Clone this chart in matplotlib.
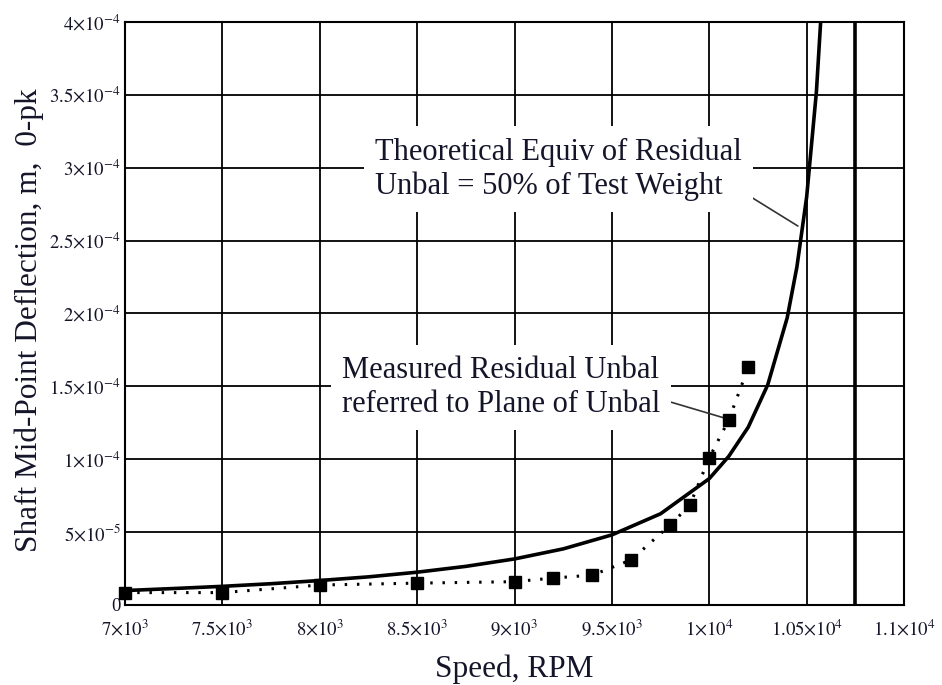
import matplotlib.pyplot as plt

# theoretical response curve
theo_rpm = [7000, 7250, 7500, 7750, 8000, 8250, 8500, 8750, 9000, 9250, 9500,
            9750, 10000, 10100, 10200, 10300, 10400, 10450, 10500, 10550, 10590]
theo_defl = [0.99e-5, 1.13e-5, 1.28e-5, 1.46e-5, 1.68e-5, 1.93e-5, 2.25e-5,
             2.65e-5, 3.16e-5, 3.85e-5, 4.81e-5, 6.26e-5, 8.67e-5, 10.2e-5,
             12.2e-5, 15.1e-5, 19.7e-5, 23.2e-5, 28.0e-5, 35.2e-5, 44.0e-5]

# measured points
meas_rpm = [7000, 7500, 8000, 8500, 9000, 9200, 9400, 9600, 9800, 9900, 10000, 10100, 10200]
meas_defl = [0.85e-5, 0.85e-5, 1.37e-5, 1.5e-5, 1.6e-5, 1.85e-5, 2.05e-5, 3.1e-5,
             5.5e-5, 6.85e-5, 10.1e-5, 12.7e-5, 16.3e-5]

marker_rpm = 10750  # thick vertical line

xticks = [7000, 7500, 8000, 8500, 9000, 9500, 10000, 10500, 11000]
xlabels = [r'$7{\times}10^{3}$', r'$7.5{\times}10^{3}$', r'$8{\times}10^{3}$',
           r'$8.5{\times}10^{3}$', r'$9{\times}10^{3}$', r'$9.5{\times}10^{3}$',
           r'$1{\times}10^{4}$', r'$1.05{\times}10^{4}$', r'$1.1{\times}10^{4}$']
yticks = [0, 5e-5, 1e-4, 1.5e-4, 2e-4, 2.5e-4, 3e-4, 3.5e-4, 4e-4]
ylabels = ['0', r'$5{\times}10^{-5}$', r'$1{\times}10^{-4}$', r'$1.5{\times}10^{-4}$',
           r'$2{\times}10^{-4}$', r'$2.5{\times}10^{-4}$', r'$3{\times}10^{-4}$',
           r'$3.5{\times}10^{-4}$', r'$4{\times}10^{-4}$']

plt.rcParams['font.family'] = 'Liberation Serif'
plt.rcParams['mathtext.fontset'] = 'stix'
txt = '#15152a'

fig = plt.figure(figsize=(9.42, 6.85), dpi=100)
ax = fig.add_axes([0.1327, 0.1168, 0.827, 0.8511])

ax.plot(theo_rpm, theo_defl, color='black', lw=2.6, zorder=3)
ax.plot(meas_rpm, meas_defl, color='black', lw=2.2, dashes=(0.8, 3.2), zorder=3)
ax.plot(meas_rpm, meas_defl, 's', color='black', ms=8, zorder=4, clip_on=False)
ax.axvline(marker_rpm, color='black', lw=2.6, zorder=2)

ax.set_xlim(7000, 11000)
ax.set_ylim(0, 4e-4)
ax.set_xticks(xticks)
ax.set_xticklabels(xlabels, fontsize=13.5, color=txt)
ax.set_yticks(yticks)
ax.set_yticklabels(ylabels, fontsize=13.5, color=txt)
ax.tick_params(axis='x', length=0, pad=10)
ax.tick_params(axis='y', length=0, pad=3)
ax.grid(True, color='black', lw=1.3)
for s in ax.spines.values():
    s.set_linewidth(1.5)

ax.set_xlabel('Speed, RPM', fontsize=22.5, color=txt, labelpad=10)
ax.set_ylabel('Shaft Mid-Point Deflection, m,  0-pk', fontsize=22.5, color=txt)
ax.yaxis.set_label_coords(-0.104, 0.488)

box = dict(facecolor='white', edgecolor='none', pad=8)
ax.annotate('Theoretical Equiv of Residual\nUnbal = 50% of Test Weight',
            xy=(10455, 2.6e-4), xytext=(8283, 2.99e-4), fontsize=22, color=txt,
            ha='left', va='center', linespacing=1.22, bbox=box,
            arrowprops=dict(arrowstyle='-', color='#333333', lw=1.2,
                            shrinkA=0, shrinkB=0, relpos=(0.965, 0.28)))
ax.annotate('Measured Residual Unbal\nreferred to Plane of Unbal',
            xy=(10085, 1.28e-4), xytext=(8114, 1.49e-4), fontsize=22, color=txt,
            ha='left', va='center', linespacing=1.22, bbox=box,
            arrowprops=dict(arrowstyle='-', color='#333333', lw=1.2,
                            shrinkA=0, shrinkB=0, relpos=(0.982, 0.35)))

fig.savefig('out.png', dpi=100)
